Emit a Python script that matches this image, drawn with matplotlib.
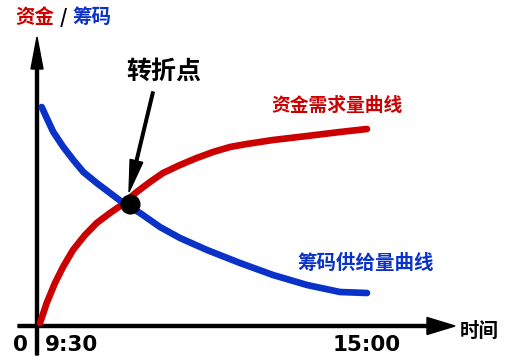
import matplotlib.pyplot as plt

plt.rcParams['font.family'] = ['Noto Sans CJK SC', 'DejaVu Sans']

# minutes after 9:30, and relative level
red_min = [3, 9.7, 18, 26, 36, 48, 59.7, 73, 84.7, 99.7, 113, 126, 143, 159.7,
           176, 193, 209.7, 236, 270, 303, 330]
red_val = [3, 23, 43, 59, 76, 91, 103, 113, 121, 134, 144, 153, 161, 168,
           174, 179, 182, 186, 190, 194, 197]
blue_min = [4.7, 9.7, 16.3, 26.3, 36.3, 46.3, 59.7, 73, 86.3, 103, 123, 143,
            170, 203, 236, 270, 303, 330]
blue_val = [219, 208, 194, 179, 166, 154, 143, 133, 123, 113, 99, 88,
            76, 63, 51, 41, 34, 33]
turn_min = 93
turn_val = 122

tick_min = [0, 330]
tick_labels = ['9:30', '15:00']

RED = '#cc0000'
BLUE = '#0a32c8'

fig = plt.figure(figsize=(5.12, 3.64), dpi=100)
ax = fig.add_axes([0, 0, 1, 1])
ax.set_xlim(-37, 475)
ax.set_ylim(-38, 326)
ax.axis('off')

#axes with arrows
ax.arrow(-19, 0, 437, 0, width=3, head_width=17, head_length=28,
         length_includes_head=True, color='black')
ax.arrow(0, -29, 0, 318, width=3, head_width=12, head_length=32,
         length_includes_head=True, color='black')

#curves
ax.plot(red_min, red_val, color=RED, lw=4.8, solid_capstyle='round', solid_joinstyle='round')
ax.plot(blue_min, blue_val, color=BLUE, lw=4.8, solid_capstyle='round', solid_joinstyle='round')
ax.plot([turn_min], [turn_val], 'o', color='black', ms=13.5, zorder=5)

#turning point label and arrow
ax.text(126.5, 254.5, '转折点', fontsize=18, fontweight='bold', ha='center', va='center')
ax.arrow(116, 234, -24, -100, width=2.6, head_width=13, head_length=32,
         length_includes_head=True, color='black', zorder=6)

#curve labels
ax.text(300.5, 221, '资金需求量曲线', fontsize=13.5, fontweight='bold', color=RED,
        ha='center', va='center')
ax.text(329, 63, '筹码供给量曲线', fontsize=14, fontweight='bold', color=BLUE,
        ha='center', va='center')

#axis labels
ax.text(-22, 308.5, '资金', fontsize=14, fontweight='bold', color=RED, ha='left', va='center')
ax.text(26, 308.5, '/', fontsize=14, fontweight='bold', color='black', ha='center', va='center')
ax.text(36, 308.5, '筹码', fontsize=14, fontweight='bold', color=BLUE, ha='left', va='center')
ax.text(442, -5, '时间', fontsize=14, fontweight='bold', ha='center', va='center')

#ticks
ax.text(-17, -19, '0', fontsize=15.5, fontweight='bold', family='DejaVu Sans',
        ha='center', va='center')
offsets = [34.5, 0]
for m, lab, off in zip(tick_min, tick_labels, offsets):
    ax.text(m + off, -19, lab, fontsize=15.5, fontweight='bold', family='DejaVu Sans',
            ha='center', va='center')

fig.savefig('out.png', dpi=100, facecolor='white')
